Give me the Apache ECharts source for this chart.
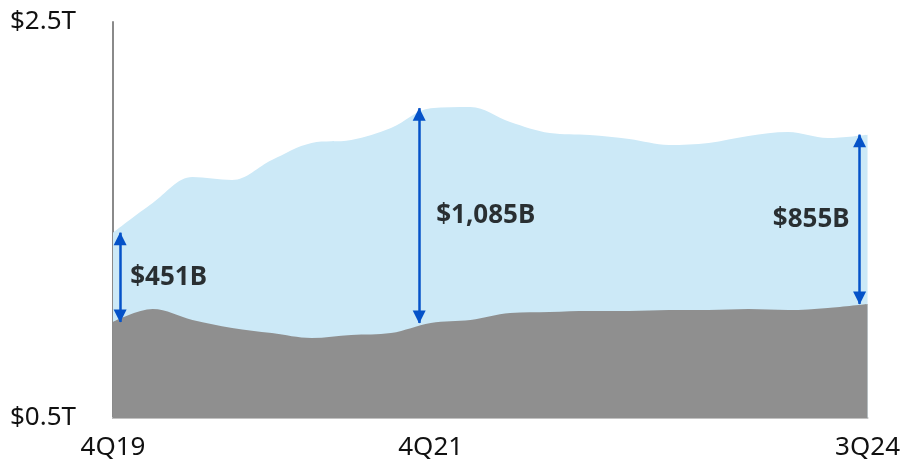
<!DOCTYPE html>
<html>
<head>
<meta charset="utf-8">
<script src="https://cdn.jsdelivr.net/npm/echarts@6/dist/echarts.min.js"></script>
<style>
  html, body { margin: 0; padding: 0; background: #fff; }
  #chart { width: 903px; height: 465px; }
</style>
</head>
<body>
<div id="chart"></div>
<script>
// Quarterly totals (in $B)
const quarters = ['4Q19','1Q20','2Q20','3Q20','4Q20','1Q21','2Q21','3Q21','4Q21','1Q22',
                  '2Q22','3Q22','4Q22','1Q23','2Q23','3Q23','4Q23','1Q24','2Q24','3Q24'];
const shownQuarterLabels = ['4Q19', '4Q21', '3Q24'];
const totalValues = [1436, 1586, 1717, 1702, 1803, 1889, 1904, 1965, 2065, 2071,
                     1995, 1939, 1929, 1909, 1879, 1889, 1924, 1944, 1914, 1931];
const baseValues  = [985, 1050, 995, 955, 929, 904, 919, 929, 980, 995,
                     1030, 1035, 1040, 1040, 1045, 1045, 1050, 1045, 1056, 1076];
const gapQuarters = ['4Q19', '4Q21', '3Q24'];
const gapValues   = [451, 1085, 855];
const yTickValues = [500, 2500];
const yTickLabels = ['$0.5T', '$2.5T'];

// Placement of each gap arrow relative to its quarter, and where its label sits
const gapLayout = [
  { shift: 0.18,  side: 'right', dist: 10 },
  { shift: -0.29, side: 'right', dist: 17 },
  { shift: -0.2,  side: 'left',  dist: 10 }
];

const FONT = '"Noto Sans", "Open Sans", sans-serif';
const ARROW = '#0552c8';

const fmtGap = v => '$' + v.toLocaleString('en-US') + 'B';

const gapLines = gapQuarters.map((q, k) => {
  const i = quarters.indexOf(q);
  const x = i + gapLayout[k].shift;
  return [
    { coord: [x, baseValues[i]] },
    { coord: [x, baseValues[i] + gapValues[k]] }
  ];
});

const gapLabels = gapQuarters.map((q, k) => {
  const i = quarters.indexOf(q);
  return {
    value: [i + gapLayout[k].shift, baseValues[i] + gapValues[k] / 2],
    label: {
      show: true,
      formatter: fmtGap(gapValues[k]),
      position: gapLayout[k].side,
      distance: gapLayout[k].dist
    }
  };
});

const chart = echarts.init(document.getElementById('chart'), null, { renderer: 'canvas' });
chart.setOption({
  animation: false,
  grid: { left: 113, right: 32, top: 22, bottom: 47, containLabel: false },
  xAxis: {
    type: 'value',
    min: 0,
    max: quarters.length - 1,
    interval: 1,
    axisLine: { show: true, onZero: false, lineStyle: { color: '#c2c2c2', width: 2 } },
    axisTick: { show: false },
    splitLine: { show: false },
    axisLabel: {
      show: true,
      margin: 17,
      fontFamily: FONT,
      fontSize: 26,
      color: '#111',
      showMinLabel: true,
      showMaxLabel: true,
      formatter: v => shownQuarterLabels.includes(quarters[v]) ? quarters[v] : ''
    }
  },
  yAxis: {
    type: 'value',
    min: yTickValues[0],
    max: yTickValues[yTickValues.length - 1],
    interval: yTickValues[1] - yTickValues[0],
    axisLine: { show: true, lineStyle: { color: '#8a8a8a', width: 2 } },
    axisTick: { show: false },
    splitLine: { show: false },
    axisLabel: {
      show: true,
      align: 'left',
      margin: 103,
      fontFamily: FONT,
      fontSize: 26,
      color: '#111',
      formatter: v => yTickLabels[yTickValues.indexOf(v)]
    }
  },
  series: [
    {
      name: 'Total',
      type: 'line',
      data: totalValues.map((v, i) => [i, v]),
      smooth: 0.35,
      symbol: 'none',
      lineStyle: { width: 0 },
      areaStyle: { color: '#cce9f7', opacity: 1, origin: 'start' },
      z: 1
    },
    {
      name: 'Base',
      type: 'line',
      data: baseValues.map((v, i) => [i, v]),
      smooth: 0.35,
      symbol: 'none',
      lineStyle: { width: 0 },
      areaStyle: { color: '#8f8f8f', opacity: 1, origin: 'start' },
      z: 2,
      markLine: {
        silent: true,
        symbol: ['triangle', 'triangle'],
        symbolSize: 13,
        symbolOffset: [[0, 6], [0, 6]],
        label: { show: false },
        lineStyle: { color: ARROW, width: 2.5, type: 'solid', opacity: 1 },
        emphasis: { disabled: true },
        data: gapLines,
        z: 5
      }
    },
    {
      name: 'Gap labels',
      type: 'scatter',
      data: gapLabels,
      symbolSize: 0,
      silent: true,
      label: {
        fontFamily: FONT,
        fontSize: 26,
        fontWeight: 'bold',
        color: '#000'
      },
      z: 6
    }
  ]
});
</script>
</body>
</html>
